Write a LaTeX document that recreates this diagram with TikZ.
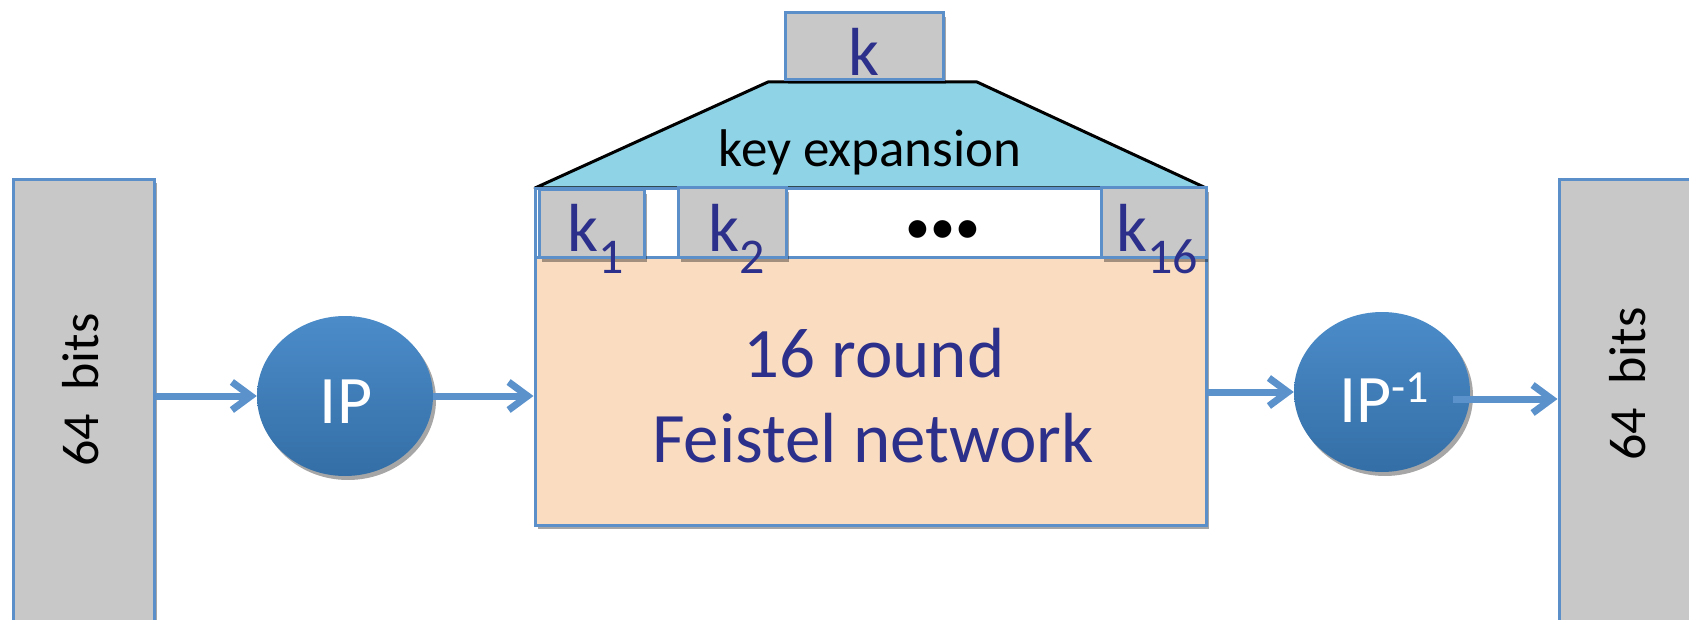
\documentclass[tikz,border=0pt]{standalone}
\usepackage{fontspec}
\setmainfont{Carlito}
\usetikzlibrary{arrows.meta,shadows,shapes.geometric}
\definecolor{boxgray}{RGB}{200,200,200}
\definecolor{edgeblue}{RGB}{91,143,201}
\definecolor{navy}{RGB}{44,48,138}
\definecolor{keycyan}{RGB}{142,212,230}
\definecolor{peach}{RGB}{250,221,193}
\definecolor{discTop}{RGB}{75,140,201}
\definecolor{discBot}{RGB}{52,110,166}
\definecolor{arrowblue}{RGB}{91,146,204}
\newcommand\fsz[1]{\fontsize{#1}{#1}\selectfont}
\newcommand\ksub[1]{k\raisebox{-22pt}{\fsz{50}#1}}
\begin{document}
\begin{tikzpicture}[x=1pt,y=-1pt,
  shadowed/.style={drop shadow={shadow xshift=3pt,shadow yshift=-4pt,opacity=0.35,fill=black}},
  graybox/.style={draw=edgeblue,line width=3pt,fill=boxgray,inner sep=0pt,shadowed},
  disc/.style={ellipse,inner sep=0pt,minimum width=176pt,minimum height=160pt,top color=discTop,bottom color=discBot,draw=none,shadowed},
  disctext/.style={text=white,font=\fsz{68},inner sep=0pt,anchor=base},
  arr/.style={draw=arrowblue,line width=7pt,-{Straight Barb[length=19pt,width=28pt]}},
  keylbl/.style={text=navy,font=\fsz{68},inner sep=0pt,anchor=base west},
  bits/.style={rotate=90,font=\fsz{52},inner sep=0pt},
]
\useasboundingbox (0,0) rectangle (1689,620);
\clip (0,0) rectangle (1689,620);

% outer 64-bit boxes
\node[graybox,minimum width=141pt,minimum height=461pt] (lbox) at (83.5,410) {};
\node[graybox,minimum width=142pt,minimum height=461pt] (rbox) at (1630,410) {};
\node[bits] (lbits) at (81,390) {64\ \ bits};
\node[bits] (rbits) at (1628,384) {64\ \ bits};

% key expansion trapezoid
\path[fill=keycyan,draw=black,line width=3pt,line join=round] (535,188) -- (768,82) -- (977,82) -- (1206,188) -- cycle;
\node[font=\fsz{53},inner sep=0pt,anchor=base] (kexp) at (870,167) {key expansion};

% top key box
\node[graybox,minimum width=158pt,minimum height=67pt] (kbox) at (864,46.5) {};
\node[text=navy,font=\fsz{68},inner sep=0pt,anchor=base] (klbl) at (864,76) {k};

% Feistel box
\node[draw=edgeblue,line width=3pt,fill=peach,inner sep=0pt,shadowed,minimum width=671pt,minimum height=267pt] (feistel) at (870.5,391.5) {};
\node[text=navy,font=\fsz{71},inner sep=0pt,anchor=base] (t1) at (874,377) {16 round};
\node[text=navy,font=\fsz{71},inner sep=0pt,anchor=base] (t2) at (873,462) {Feistel network};

% round-key row
\node[draw=edgeblue,line width=3pt,fill=white,inner sep=0pt,minimum width=671pt,minimum height=69pt] (krow) at (870.5,223.5) {};
\node[graybox,minimum width=105pt,minimum height=68pt] (k1) at (591.5,224) {};
\node[graybox,minimum width=108pt,minimum height=70pt] (k2) at (732,223) {};
\node[graybox,minimum width=105pt,minimum height=70pt] (k16) at (1153.5,223) {};
\node[keylbl] (k1l) at (567,252) {\ksub{1}};
\node[keylbl] (k2l) at (708,252) {\ksub{2}};
\node[keylbl] (k16l) at (1116,252) {\ksub{16}};
\node[font=\fsz{50},inner sep=0pt] (dots) at (943,232) {\textbullet\textbullet\textbullet};

% permutations
\node[disc] (ip) at (345,396) {};
\node[disctext] (iplbl) at (346,423) {IP};
\node[disc] (ipinv) at (1382,392) {};
\node[disctext] (ipinvlbl) at (1384,422) {IP\raisebox{20pt}{\fsz{46}-1}};

% arrows
\coordinate (a4) at ([xshift=-17pt,yshift=-7pt]ipinv.east);
\draw[arr] (lbox.east |- ip.west) -- (ip.west);
\draw[arr] (ip.east) -- (feistel.west |- ip.east);
\draw[arr] (feistel.east |- ipinv.west) -- (ipinv.west);
\draw[arr] (a4) -- (rbox.west |- a4);
\end{tikzpicture}
\end{document}
